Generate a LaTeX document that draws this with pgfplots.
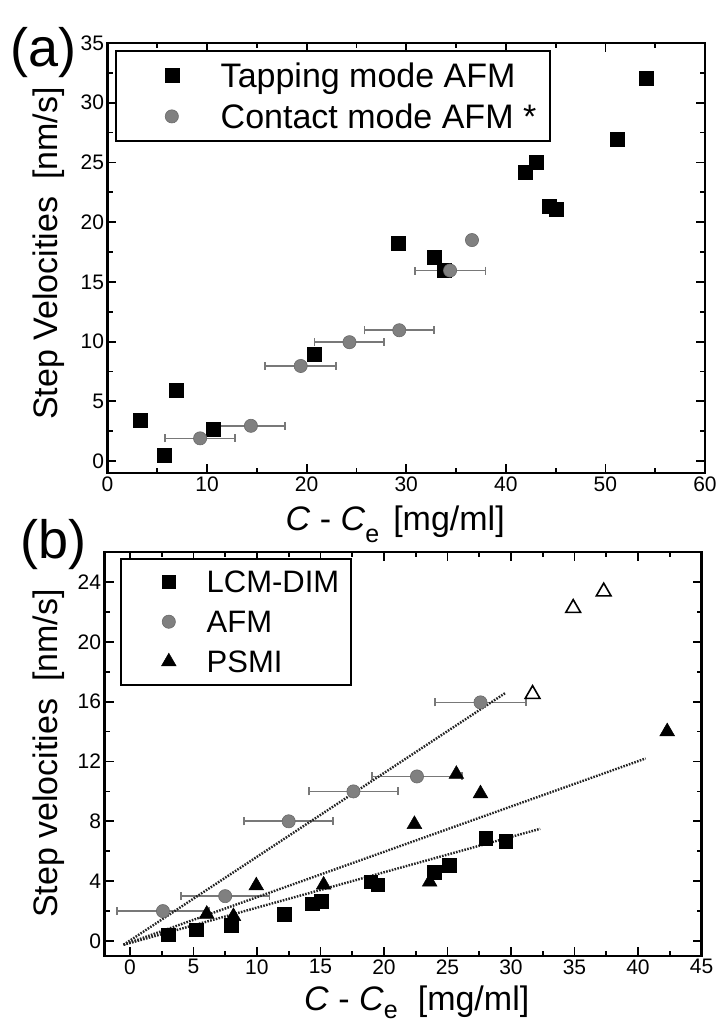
\documentclass[border=0pt]{standalone}
\usepackage{pgfplots}
\pgfplotsset{compat=1.18}
\usepackage{fontspec}
\setmainfont{Liberation Sans}
\definecolor{cgray}{RGB}{128,128,128}
\definecolor{cgrayd}{RGB}{105,105,105}
\definecolor{ebgray}{RGB}{120,120,120}
\definecolor{fitc}{RGB}{35,35,35}
\pgfplotsset{
 common/.style={
  scale only axis,
  axis line style={line width=2.3pt},
  every tick/.style={black, line width=1.8pt},
  major tick length=9pt, minor tick length=5pt,
  minor tick num=1,
  tick align=inside,
  /pgf/number format/assume math mode=true,
  ticklabel style={font=\fontsize{21}{21}\selectfont},
  label style={font=\fontsize{34}{34}\selectfont},
  clip=false,
  legend cell align=left,
 },
 sq/.style={only marks, mark=square*, mark size=7pt, mark options={fill=black, draw=black, line width=0.5pt}},
 ci/.style={only marks, mark=*, mark size=6.6pt, mark options={fill=cgray, draw=cgrayd, line width=0.6pt}},
 tr/.style={only marks, mark=triangle*, mark size=8.5pt, mark options={fill=black, draw=black, line width=0.5pt}},
 eb/.style={error bars/.cd, x dir=both, x explicit, error mark=|,
   error bar style={line width=1.7pt, color=ebgray},
   error mark options={mark size=4pt, line width=1.7pt, color=ebgray}},
}
\begin{document}
\begin{tikzpicture}
\useasboundingbox (0pt,0pt) rectangle (717pt,1025pt);
% ---------------- panel (a) ----------------
\begin{axis}[common,
  at={(107.5pt,552pt)}, anchor=south west,
  width=597.5pt, height=430pt,
  xmin=0, xmax=60, ymin=-1, ymax=35,
  xtick={0,10,...,60}, ytick={0,5,...,35},
  xlabel={\textit{C} - \textit{C}\raisebox{-12pt}{\fontsize{25}{25}\selectfont e}\hspace{14pt}[mg/ml]},
  xlabel style={at={(axis description cs:0.4815,-0.1326)}, anchor=base},
  ylabel={Step Velocities\hspace{17pt}[nm/s]},
  ylabel style={at={(axis description cs:-0.0979,0.5105)}, anchor=center},
  legend style={at={(axis description cs:0.0126,0.9837)}, anchor=north west,
    draw=black, line width=1.8pt, inner xsep=14pt, inner ysep=12.5pt, row sep=17pt,
    font=\fontsize{34}{34}\selectfont,
    nodes={inner sep=0pt, text height=24pt, text depth=0pt}},
  legend image code/.code={\path (-41pt,0pt) (48pt,0pt); \draw[#1] plot coordinates {(0pt,0pt)};},
]
\addplot[sq] coordinates {
 (3.3,3.4) (5.7,0.5) (6.9,5.9) (10.6,2.65) (20.8,8.95) (29.2,18.25)
 (32.8,17.05) (33.8,16.0) (41.9,24.15) (43.1,25.0) (44.4,21.35) (45.1,21.1)
 (51.2,26.95) (54.1,32.05)
};
\addlegendentry{Tapping mode AFM}
\addplot[ci, eb] coordinates {
 (9.3,1.9) +- (3.5,0)
 (14.4,2.95) +- (3.4,0)
 (19.4,7.96) +- (3.55,0)
 (24.3,9.95) +- (3.5,0)
 (29.3,10.95) +- (3.5,0)
 (34.4,15.95) +- (3.55,0)
};
\addlegendentry{Contact mode AFM *}
\addplot[ci, forget plot] coordinates {(36.6,18.5)};
\end{axis}
\node[anchor=base west, font=\fontsize{54}{54}\selectfont, inner sep=0pt] at (10pt,958pt) {(a)};
% ---------------- panel (b) ----------------
\begin{axis}[common,
  at={(104.5pt,69pt)}, anchor=south west,
  width=597pt, height=404pt,
  xmin=-2, xmax=45, ymin=-1, ymax=26,
  xtick={0,5,...,45}, ytick={0,4,...,24},
  xlabel={\textit{C} - \textit{C}\raisebox{-8pt}{\fontsize{25}{25}\selectfont e}\hspace{20pt}[mg/ml]},
  xlabel style={at={(axis description cs:0.523,-0.1353)}, anchor=base},
  ylabel={Step velocities\hspace{17pt}[nm/s]},
  ylabel style={at={(axis description cs:-0.093,0.501)}, anchor=center},
  legend style={at={(axis description cs:0.0260,0.9856)}, anchor=north west,
    draw=black, line width=1.8pt, inner xsep=12pt, inner ysep=12pt, row sep=18pt,
    font=\fontsize{31}{31}\selectfont,
    nodes={inner sep=0pt, text height=22pt, text depth=0pt}},
  legend image code/.code={\path (-35pt,0pt) (37pt,0pt); \draw[#1] plot coordinates {(0pt,0pt)};},
]
\addplot[sq, mark size=6.8pt] coordinates {
 (3.0,0.42) (5.2,0.76) (8.0,1.05) (12.15,1.8) (14.35,2.5) (15.05,2.67)
 (18.95,3.95) (19.5,3.77) (23.95,4.6) (25.15,5.05) (28.0,6.85) (29.6,6.65)
};
\addlegendentry{LCM-DIM}
\addplot[ci, eb] coordinates {
 (2.6,2.0) +- (3.6,0)
 (7.5,3.0) +- (3.5,0)
 (12.5,8.0) +- (3.5,0)
 (17.6,10.0) +- (3.5,0)
 (22.6,11.0) +- (3.55,0)
 (27.6,15.95) +- (3.6,0)
};
\addlegendentry{AFM}
\addplot[tr] coordinates {
 (6.05,1.8) (8.15,1.65) (9.95,3.7) (15.25,3.75) (22.4,7.8) (23.6,3.95)
 (25.7,11.15) (27.6,9.85) (42.3,14.0)
};
\addlegendentry{PSMI}
\addplot[only marks, mark=triangle*, mark size=8.5pt, mark options={fill=white, draw=black, line width=1.6pt}, forget plot] coordinates {
 (31.7,16.5) (34.9,22.25) (37.3,23.35)
};
\addplot[fitc, line width=2.4pt, dash pattern=on 1.6pt off 1.3pt, forget plot] coordinates {(-0.5,-0.25) (29.6,16.6)};
\addplot[fitc, line width=2.4pt, dash pattern=on 1.6pt off 1.3pt, forget plot] coordinates {(-0.5,-0.25) (40.6,12.2)};
\addplot[fitc, line width=2.4pt, dash pattern=on 1.6pt off 1.3pt, forget plot] coordinates {(-0.5,-0.25) (32.3,7.5)};
\end{axis}
\node[anchor=base west, font=\fontsize{54}{54}\selectfont, inner sep=0pt] at (20pt,466pt) {(b)};
\end{tikzpicture}
\end{document}
